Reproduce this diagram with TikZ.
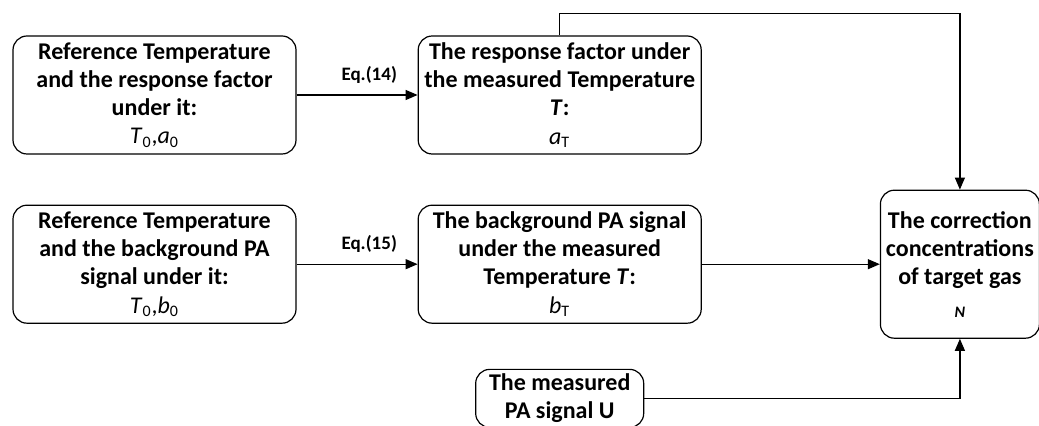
\documentclass[tikz,border=0pt]{standalone}
\usepackage{fontspec}
\setmainfont{Carlito}
\usepackage{tikz}
\usetikzlibrary{positioning,arrows.meta,calc}

\tikzset{
  box/.style={draw, rounded corners=7pt, line width=0.6pt, align=center,
    inner sep=2pt, font=\bfseries\fontsize{12}{14.15}\selectfont},
  flow/.style={-{Triangle[length=6pt,width=5pt]}, line width=0.6pt},
  eq/.style={font=\bfseries\fontsize{9.5}{11}\selectfont, above=2pt, pos=0.6}
}

\begin{document}
\begin{tikzpicture}[x=1pt,y=1pt]

  \useasboundingbox (0,0) rectangle (519.5,-213);

  \node[box, minimum width=141.5pt, minimum height=59pt] (reffactor) at (77.25,-47.5)
    {Reference Temperature\\ and the response factor\\ under it:\\
     \mdseries\textit{T}\textsubscript{0},\textit{a}\textsubscript{0}};
  \node[box, minimum width=141.5pt, minimum height=59pt] (factorT) [right=60.5pt of reffactor]
    {The response factor under\\ the measured Temperature\\ \textit{T}:\\
     \mdseries\textit{a}\textsubscript{T}};
  \node[box, minimum width=141.5pt, minimum height=59pt] (refbg) [below=25pt of reffactor]
    {Reference Temperature\\ and the background PA\\ signal under it:\\
     \mdseries\textit{T}\textsubscript{0},\textit{b}\textsubscript{0}};
  \node[box, minimum width=141.5pt, minimum height=59pt] (bgT) [right=60.5pt of refbg]
    {The background PA signal\\ under the measured\\ Temperature \textit{T}:\\
     \mdseries\textit{b}\textsubscript{T}};
  \node[box, minimum width=79.5pt, minimum height=74pt] (conc) [right=89pt of bgT]
    {The correction\\ concentrations\\ of target gas\\[2pt]
     {\footnotesize\textit{N}}};
  \node[box, minimum width=84pt, minimum height=29pt] (signalU) [below=22.5pt of bgT]
    {The measured\\ PA signal U};

  \path[flow] (reffactor) edge node[eq] {Eq.(14)} (factorT);
  \path[flow] (refbg) edge node[eq] {Eq.(15)} (bgT);
  \path[flow] (bgT) edge (conc);
  \draw[flow] (factorT.north) -- ++(0,11) -| (conc.north);
  \draw[flow] (signalU.east) -| (conc.south);

\end{tikzpicture}
\end{document}
